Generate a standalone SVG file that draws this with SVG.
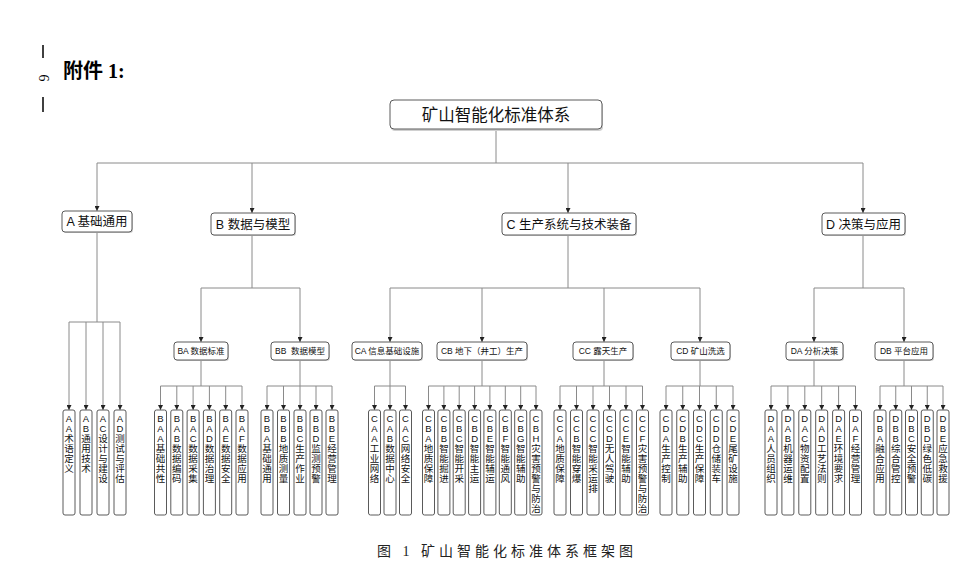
<svg xmlns="http://www.w3.org/2000/svg" width="968" height="575" viewBox="0 0 968 575">
<defs>
<marker id="arr" markerWidth="5" markerHeight="5" refX="5" refY="2.5" orient="auto" markerUnits="userSpaceOnUse">
<path d="M0,0 L5,2.5 L0,5 z" fill="#222"/>
</marker>
<style>
.box{fill:#fff;stroke:#5a5a5a;stroke-width:1}
.sh{fill:#d0d0d0}
.ln{fill:none;stroke:#8a8a8a;stroke-width:1}
.ar{fill:none;stroke:#8a8a8a;stroke-width:1;marker-end:url(#arr)}
.t{font-family:"Liberation Sans","Noto Sans CJK SC",sans-serif;fill:#111;text-anchor:middle}
.root{font-size:16.5px}
.l1{font-size:12.5px}
.l2{font-size:8.5px}
.lf{font-size:9.5px}
</style>
</defs>
<rect width="968" height="575" fill="#fff"/>

<g id="header">
<line x1="43" y1="45" x2="43" y2="58" stroke="#000" stroke-width="1.5"/>
<line x1="43" y1="97" x2="43" y2="112" stroke="#000" stroke-width="1.5"/>
<text x="43" y="78" transform="rotate(90 43 78)" font-family="Liberation Serif,serif" font-size="14" text-anchor="middle" dominant-baseline="central">6</text>
<text x="63" y="78" font-family="'Liberation Serif','Noto Sans CJK SC',serif" font-size="20" font-weight="bold">附件 1:</text>
</g>

<g id="connectors">
<path class="ln" d="M496,130 V163 M97,163 H863"/>
<path class="ar" d="M97,163 V211"/><path class="ar" d="M252,163 V213"/><path class="ar" d="M568,163 V213"/><path class="ar" d="M863,163 V213"/>
<path class="ln" d="M97,232 V322 M69,322 H120"/>
<path class="ar" d="M69,322 V410"/><path class="ar" d="M86,322 V410"/><path class="ar" d="M103,322 V410"/><path class="ar" d="M120,322 V410"/>
<path class="ln" d="M252,235 V288 M201,288 H300"/>
<path class="ar" d="M201,288 V342"/><path class="ar" d="M300,288 V342"/>
<path class="ln" d="M568,236 V288 M390,288 H700"/>
<path class="ar" d="M390,288 V342"/><path class="ar" d="M482,288 V342"/><path class="ar" d="M604,288 V342"/><path class="ar" d="M700,288 V342"/>
<path class="ln" d="M863,235 V288 M814,288 H904"/>
<path class="ar" d="M814,288 V342"/><path class="ar" d="M904,288 V342"/>
<path class="ln" d="M201,360 V386 M160.5,386 H242"/>
<path class="ar" d="M160.5,386 V410"/><path class="ar" d="M176.8,386 V410"/><path class="ar" d="M193.1,386 V410"/><path class="ar" d="M209.4,386 V410"/><path class="ar" d="M225.7,386 V410"/><path class="ar" d="M242,386 V410"/>
<path class="ln" d="M300,360 V386 M267,386 H332"/>
<path class="ar" d="M267,386 V410"/><path class="ar" d="M283.5,386 V410"/><path class="ar" d="M300,386 V410"/><path class="ar" d="M316,386 V410"/><path class="ar" d="M332,386 V410"/>
<path class="ln" d="M390,360 V386 M374.5,386 H405.5"/>
<path class="ar" d="M374.5,386 V410"/><path class="ar" d="M390,386 V410"/><path class="ar" d="M405.5,386 V410"/>
<path class="ln" d="M482,360 V386 M428.5,386 H536"/>
<path class="ar" d="M428.5,386 V410"/><path class="ar" d="M443.9,386 V410"/><path class="ar" d="M459.2,386 V410"/><path class="ar" d="M474.6,386 V410"/><path class="ar" d="M489.9,386 V410"/><path class="ar" d="M505.3,386 V410"/><path class="ar" d="M520.7,386 V410"/><path class="ar" d="M536,386 V410"/>
<path class="ln" d="M604,360 V386 M560,386 H642.5"/>
<path class="ar" d="M560,386 V410"/><path class="ar" d="M576.5,386 V410"/><path class="ar" d="M593,386 V410"/><path class="ar" d="M609.5,386 V410"/><path class="ar" d="M626,386 V410"/><path class="ar" d="M642.5,386 V410"/>
<path class="ln" d="M700,360 V386 M666,386 H733"/>
<path class="ar" d="M666,386 V410"/><path class="ar" d="M682.75,386 V410"/><path class="ar" d="M699.5,386 V410"/><path class="ar" d="M716.25,386 V410"/><path class="ar" d="M733,386 V410"/>
<path class="ln" d="M814,360 V386 M771,386 H855.5"/>
<path class="ar" d="M771,386 V410"/><path class="ar" d="M787.9,386 V410"/><path class="ar" d="M804.8,386 V410"/><path class="ar" d="M821.7,386 V410"/><path class="ar" d="M838.6,386 V410"/><path class="ar" d="M855.5,386 V410"/>
<path class="ln" d="M904,360 V386 M880,386 H943"/>
<path class="ar" d="M880,386 V410"/><path class="ar" d="M895.75,386 V410"/><path class="ar" d="M911.5,386 V410"/><path class="ar" d="M927.25,386 V410"/><path class="ar" d="M943,386 V410"/>
</g>

<g id="root"><rect class="sh" x="391" y="102" width="212" height="29" rx="4"/><rect class="box" x="390" y="100" width="212" height="29" rx="4"/><text class="t root" x="496" y="121">矿山智能化标准体系</text></g>

<g id="A"><rect class="sh" x="63" y="212" width="70" height="21" rx="3"/><rect class="box" x="62" y="211" width="70" height="21" rx="3"/><text class="t l1" x="97" y="226">A 基础通用</text></g>
<g id="B"><rect class="sh" x="212" y="214" width="84" height="22" rx="3"/><rect class="box" x="211" y="213" width="84" height="22" rx="3"/><text class="t l1" x="253" y="228.5">B 数据与模型</text></g>
<g id="C"><rect class="sh" x="503" y="214" width="134" height="22" rx="3"/><rect class="box" x="502" y="213" width="134" height="22" rx="3"/><text class="t l1" x="569" y="228.5">C 生产系统与技术装备</text></g>
<g id="D"><rect class="sh" x="823" y="214" width="83" height="22" rx="3"/><rect class="box" x="822" y="213" width="83" height="22" rx="3"/><text class="t l1" x="863.5" y="228.5">D 决策与应用</text></g>

<g id="BA"><rect class="sh" x="175" y="343" width="54" height="18" rx="3"/><rect class="box" x="174" y="342" width="54" height="18" rx="3"/><text class="t l2" x="201" y="354">BA 数据标准</text></g>
<g id="BB"><rect class="sh" x="272" y="343" width="58" height="18" rx="3"/><rect class="box" x="271" y="342" width="58" height="18" rx="3"/><text class="t l2" x="300" y="354" xml:space="preserve">BB  数据模型</text></g>
<g id="CA"><rect class="sh" x="353" y="343" width="70" height="18" rx="3"/><rect class="box" x="352" y="342" width="70" height="18" rx="3"/><text class="t l2" x="387" y="354">CA 信息基础设施</text></g>
<g id="CB"><rect class="sh" x="438" y="343" width="90" height="18" rx="3"/><rect class="box" x="437" y="342" width="90" height="18" rx="3"/><text class="t l2" x="482" y="354">CB 地下（井工）生产</text></g>
<g id="CC"><rect class="sh" x="574" y="343" width="60" height="18" rx="3"/><rect class="box" x="573" y="342" width="60" height="18" rx="3"/><text class="t l2" x="603" y="354">CC 露天生产</text></g>
<g id="CD"><rect class="sh" x="672" y="343" width="59" height="18" rx="3"/><rect class="box" x="671" y="342" width="59" height="18" rx="3"/><text class="t l2" x="700.5" y="354">CD 矿山洗选</text></g>
<g id="DA"><rect class="sh" x="787" y="343" width="57" height="18" rx="3"/><rect class="box" x="786" y="342" width="57" height="18" rx="3"/><text class="t l2" x="814.5" y="354">DA 分析决策</text></g>
<g id="DB"><rect class="sh" x="876" y="343" width="58" height="18" rx="3"/><rect class="box" x="875" y="342" width="58" height="18" rx="3"/><text class="t l2" x="904" y="354">DB 平台应用</text></g>

<g id="AA"><rect class="box" x="63" y="410" width="12" height="105" rx="2"/><text class="t lf" y="422"><tspan x="69">A</tspan><tspan x="69" dy="10">A</tspan><tspan x="69" dy="10">术</tspan><tspan x="69" dy="10">语</tspan><tspan x="69" dy="10">定</tspan><tspan x="69" dy="10">义</tspan></text></g>
<g id="AB"><rect class="box" x="80" y="410" width="12" height="105" rx="2"/><text class="t lf" y="422"><tspan x="86">A</tspan><tspan x="86" dy="10">B</tspan><tspan x="86" dy="10">通</tspan><tspan x="86" dy="10">用</tspan><tspan x="86" dy="10">技</tspan><tspan x="86" dy="10">术</tspan></text></g>
<g id="AC"><rect class="box" x="97" y="410" width="12" height="105" rx="2"/><text class="t lf" y="422"><tspan x="103">A</tspan><tspan x="103" dy="10">C</tspan><tspan x="103" dy="10">设</tspan><tspan x="103" dy="10">计</tspan><tspan x="103" dy="10">与</tspan><tspan x="103" dy="10">建</tspan><tspan x="103" dy="10">设</tspan></text></g>
<g id="AD"><rect class="box" x="114" y="410" width="12" height="105" rx="2"/><text class="t lf" y="422"><tspan x="120">A</tspan><tspan x="120" dy="10">D</tspan><tspan x="120" dy="10">测</tspan><tspan x="120" dy="10">试</tspan><tspan x="120" dy="10">与</tspan><tspan x="120" dy="10">评</tspan><tspan x="120" dy="10">估</tspan></text></g>

<g id="BAA"><rect class="box" x="154.5" y="410" width="12" height="105" rx="2"/><text class="t lf" y="422"><tspan x="160.5">B</tspan><tspan x="160.5" dy="10">A</tspan><tspan x="160.5" dy="10">A</tspan><tspan x="160.5" dy="10">基</tspan><tspan x="160.5" dy="10">础</tspan><tspan x="160.5" dy="10">共</tspan><tspan x="160.5" dy="10">性</tspan></text></g>
<g id="BAB"><rect class="box" x="170.8" y="410" width="12" height="105" rx="2"/><text class="t lf" y="422"><tspan x="176.8">B</tspan><tspan x="176.8" dy="10">A</tspan><tspan x="176.8" dy="10">B</tspan><tspan x="176.8" dy="10">数</tspan><tspan x="176.8" dy="10">据</tspan><tspan x="176.8" dy="10">编</tspan><tspan x="176.8" dy="10">码</tspan></text></g>
<g id="BAC"><rect class="box" x="187.1" y="410" width="12" height="105" rx="2"/><text class="t lf" y="422"><tspan x="193.1">B</tspan><tspan x="193.1" dy="10">A</tspan><tspan x="193.1" dy="10">C</tspan><tspan x="193.1" dy="10">数</tspan><tspan x="193.1" dy="10">据</tspan><tspan x="193.1" dy="10">采</tspan><tspan x="193.1" dy="10">集</tspan></text></g>
<g id="BAD"><rect class="box" x="203.4" y="410" width="12" height="105" rx="2"/><text class="t lf" y="422"><tspan x="209.4">B</tspan><tspan x="209.4" dy="10">A</tspan><tspan x="209.4" dy="10">D</tspan><tspan x="209.4" dy="10">数</tspan><tspan x="209.4" dy="10">据</tspan><tspan x="209.4" dy="10">治</tspan><tspan x="209.4" dy="10">理</tspan></text></g>
<g id="BAE"><rect class="box" x="219.7" y="410" width="12" height="105" rx="2"/><text class="t lf" y="422"><tspan x="225.7">B</tspan><tspan x="225.7" dy="10">A</tspan><tspan x="225.7" dy="10">E</tspan><tspan x="225.7" dy="10">数</tspan><tspan x="225.7" dy="10">据</tspan><tspan x="225.7" dy="10">安</tspan><tspan x="225.7" dy="10">全</tspan></text></g>
<g id="BAF"><rect class="box" x="236" y="410" width="12" height="105" rx="2"/><text class="t lf" y="422"><tspan x="242">B</tspan><tspan x="242" dy="10">A</tspan><tspan x="242" dy="10">F</tspan><tspan x="242" dy="10">数</tspan><tspan x="242" dy="10">据</tspan><tspan x="242" dy="10">应</tspan><tspan x="242" dy="10">用</tspan></text></g>

<g id="BBA"><rect class="box" x="261" y="410" width="12" height="105" rx="2"/><text class="t lf" y="422"><tspan x="267">B</tspan><tspan x="267" dy="10">B</tspan><tspan x="267" dy="10">A</tspan><tspan x="267" dy="10">基</tspan><tspan x="267" dy="10">础</tspan><tspan x="267" dy="10">通</tspan><tspan x="267" dy="10">用</tspan></text></g>
<g id="BBB"><rect class="box" x="277.5" y="410" width="12" height="105" rx="2"/><text class="t lf" y="422"><tspan x="283.5">B</tspan><tspan x="283.5" dy="10">B</tspan><tspan x="283.5" dy="10">B</tspan><tspan x="283.5" dy="10">地</tspan><tspan x="283.5" dy="10">质</tspan><tspan x="283.5" dy="10">测</tspan><tspan x="283.5" dy="10">量</tspan></text></g>
<g id="BBC"><rect class="box" x="294" y="410" width="12" height="105" rx="2"/><text class="t lf" y="422"><tspan x="300">B</tspan><tspan x="300" dy="10">B</tspan><tspan x="300" dy="10">C</tspan><tspan x="300" dy="10">生</tspan><tspan x="300" dy="10">产</tspan><tspan x="300" dy="10">作</tspan><tspan x="300" dy="10">业</tspan></text></g>
<g id="BBD"><rect class="box" x="310" y="410" width="12" height="105" rx="2"/><text class="t lf" y="422"><tspan x="316">B</tspan><tspan x="316" dy="10">B</tspan><tspan x="316" dy="10">D</tspan><tspan x="316" dy="10">监</tspan><tspan x="316" dy="10">测</tspan><tspan x="316" dy="10">预</tspan><tspan x="316" dy="10">警</tspan></text></g>
<g id="BBE"><rect class="box" x="326" y="410" width="12" height="105" rx="2"/><text class="t lf" y="422"><tspan x="332">B</tspan><tspan x="332" dy="10">B</tspan><tspan x="332" dy="10">E</tspan><tspan x="332" dy="10">经</tspan><tspan x="332" dy="10">营</tspan><tspan x="332" dy="10">管</tspan><tspan x="332" dy="10">理</tspan></text></g>

<g id="CAA"><rect class="box" x="368.5" y="410" width="12" height="105" rx="2"/><text class="t lf" y="422"><tspan x="374.5">C</tspan><tspan x="374.5" dy="10">A</tspan><tspan x="374.5" dy="10">A</tspan><tspan x="374.5" dy="10">工</tspan><tspan x="374.5" dy="10">业</tspan><tspan x="374.5" dy="10">网</tspan><tspan x="374.5" dy="10">络</tspan></text></g>
<g id="CAB"><rect class="box" x="384" y="410" width="12" height="105" rx="2"/><text class="t lf" y="422"><tspan x="390">C</tspan><tspan x="390" dy="10">A</tspan><tspan x="390" dy="10">B</tspan><tspan x="390" dy="10">数</tspan><tspan x="390" dy="10">据</tspan><tspan x="390" dy="10">中</tspan><tspan x="390" dy="10">心</tspan></text></g>
<g id="CAC"><rect class="box" x="399.5" y="410" width="12" height="105" rx="2"/><text class="t lf" y="422"><tspan x="405.5">C</tspan><tspan x="405.5" dy="10">A</tspan><tspan x="405.5" dy="10">C</tspan><tspan x="405.5" dy="10">网</tspan><tspan x="405.5" dy="10">络</tspan><tspan x="405.5" dy="10">安</tspan><tspan x="405.5" dy="10">全</tspan></text></g>

<g id="CBA"><rect class="box" x="422.5" y="410" width="12" height="105" rx="2"/><text class="t lf" y="422"><tspan x="428.5">C</tspan><tspan x="428.5" dy="10">B</tspan><tspan x="428.5" dy="10">A</tspan><tspan x="428.5" dy="10">地</tspan><tspan x="428.5" dy="10">质</tspan><tspan x="428.5" dy="10">保</tspan><tspan x="428.5" dy="10">障</tspan></text></g>
<g id="CBB"><rect class="box" x="437.9" y="410" width="12" height="105" rx="2"/><text class="t lf" y="422"><tspan x="443.9">C</tspan><tspan x="443.9" dy="10">B</tspan><tspan x="443.9" dy="10">B</tspan><tspan x="443.9" dy="10">智</tspan><tspan x="443.9" dy="10">能</tspan><tspan x="443.9" dy="10">掘</tspan><tspan x="443.9" dy="10">进</tspan></text></g>
<g id="CBC"><rect class="box" x="453.2" y="410" width="12" height="105" rx="2"/><text class="t lf" y="422"><tspan x="459.2">C</tspan><tspan x="459.2" dy="10">B</tspan><tspan x="459.2" dy="10">C</tspan><tspan x="459.2" dy="10">智</tspan><tspan x="459.2" dy="10">能</tspan><tspan x="459.2" dy="10">开</tspan><tspan x="459.2" dy="10">采</tspan></text></g>
<g id="CBD"><rect class="box" x="468.6" y="410" width="12" height="105" rx="2"/><text class="t lf" y="422"><tspan x="474.6">C</tspan><tspan x="474.6" dy="10">B</tspan><tspan x="474.6" dy="10">D</tspan><tspan x="474.6" dy="10">智</tspan><tspan x="474.6" dy="10">能</tspan><tspan x="474.6" dy="10">主</tspan><tspan x="474.6" dy="10">运</tspan></text></g>
<g id="CBE"><rect class="box" x="483.9" y="410" width="12" height="105" rx="2"/><text class="t lf" y="422"><tspan x="489.9">C</tspan><tspan x="489.9" dy="10">B</tspan><tspan x="489.9" dy="10">E</tspan><tspan x="489.9" dy="10">智</tspan><tspan x="489.9" dy="10">能</tspan><tspan x="489.9" dy="10">辅</tspan><tspan x="489.9" dy="10">运</tspan></text></g>
<g id="CBF"><rect class="box" x="499.3" y="410" width="12" height="105" rx="2"/><text class="t lf" y="422"><tspan x="505.3">C</tspan><tspan x="505.3" dy="10">B</tspan><tspan x="505.3" dy="10">F</tspan><tspan x="505.3" dy="10">智</tspan><tspan x="505.3" dy="10">能</tspan><tspan x="505.3" dy="10">通</tspan><tspan x="505.3" dy="10">风</tspan></text></g>
<g id="CBG"><rect class="box" x="514.7" y="410" width="12" height="105" rx="2"/><text class="t lf" y="422"><tspan x="520.7">C</tspan><tspan x="520.7" dy="10">B</tspan><tspan x="520.7" dy="10">G</tspan><tspan x="520.7" dy="10">智</tspan><tspan x="520.7" dy="10">能</tspan><tspan x="520.7" dy="10">辅</tspan><tspan x="520.7" dy="10">助</tspan></text></g>
<g id="CBH"><rect class="box" x="530" y="410" width="12" height="105" rx="2"/><text class="t lf" y="422"><tspan x="536">C</tspan><tspan x="536" dy="10">B</tspan><tspan x="536" dy="10">H</tspan><tspan x="536" dy="10">灾</tspan><tspan x="536" dy="10">害</tspan><tspan x="536" dy="10">预</tspan><tspan x="536" dy="10">警</tspan><tspan x="536" dy="10">与</tspan><tspan x="536" dy="10">防</tspan><tspan x="536" dy="10">治</tspan></text></g>

<g id="CCA"><rect class="box" x="554" y="410" width="12" height="105" rx="2"/><text class="t lf" y="422"><tspan x="560">C</tspan><tspan x="560" dy="10">C</tspan><tspan x="560" dy="10">A</tspan><tspan x="560" dy="10">地</tspan><tspan x="560" dy="10">质</tspan><tspan x="560" dy="10">保</tspan><tspan x="560" dy="10">障</tspan></text></g>
<g id="CCB"><rect class="box" x="570.5" y="410" width="12" height="105" rx="2"/><text class="t lf" y="422"><tspan x="576.5">C</tspan><tspan x="576.5" dy="10">C</tspan><tspan x="576.5" dy="10">B</tspan><tspan x="576.5" dy="10">智</tspan><tspan x="576.5" dy="10">能</tspan><tspan x="576.5" dy="10">穿</tspan><tspan x="576.5" dy="10">爆</tspan></text></g>
<g id="CCC"><rect class="box" x="587" y="410" width="12" height="105" rx="2"/><text class="t lf" y="422"><tspan x="593">C</tspan><tspan x="593" dy="10">C</tspan><tspan x="593" dy="10">C</tspan><tspan x="593" dy="10">智</tspan><tspan x="593" dy="10">能</tspan><tspan x="593" dy="10">采</tspan><tspan x="593" dy="10">运</tspan><tspan x="593" dy="10">排</tspan></text></g>
<g id="CCD"><rect class="box" x="603.5" y="410" width="12" height="105" rx="2"/><text class="t lf" y="422"><tspan x="609.5">C</tspan><tspan x="609.5" dy="10">C</tspan><tspan x="609.5" dy="10">D</tspan><tspan x="609.5" dy="10">无</tspan><tspan x="609.5" dy="10">人</tspan><tspan x="609.5" dy="10">驾</tspan><tspan x="609.5" dy="10">驶</tspan></text></g>
<g id="CCE"><rect class="box" x="620" y="410" width="12" height="105" rx="2"/><text class="t lf" y="422"><tspan x="626">C</tspan><tspan x="626" dy="10">C</tspan><tspan x="626" dy="10">E</tspan><tspan x="626" dy="10">智</tspan><tspan x="626" dy="10">能</tspan><tspan x="626" dy="10">辅</tspan><tspan x="626" dy="10">助</tspan></text></g>
<g id="CCF"><rect class="box" x="636.5" y="410" width="12" height="105" rx="2"/><text class="t lf" y="422"><tspan x="642.5">C</tspan><tspan x="642.5" dy="10">C</tspan><tspan x="642.5" dy="10">F</tspan><tspan x="642.5" dy="10">灾</tspan><tspan x="642.5" dy="10">害</tspan><tspan x="642.5" dy="10">预</tspan><tspan x="642.5" dy="10">警</tspan><tspan x="642.5" dy="10">与</tspan><tspan x="642.5" dy="10">防</tspan><tspan x="642.5" dy="10">治</tspan></text></g>

<g id="CDA"><rect class="box" x="660" y="410" width="12" height="105" rx="2"/><text class="t lf" y="422"><tspan x="666">C</tspan><tspan x="666" dy="10">D</tspan><tspan x="666" dy="10">A</tspan><tspan x="666" dy="10">生</tspan><tspan x="666" dy="10">产</tspan><tspan x="666" dy="10">控</tspan><tspan x="666" dy="10">制</tspan></text></g>
<g id="CDB"><rect class="box" x="676.75" y="410" width="12" height="105" rx="2"/><text class="t lf" y="422"><tspan x="682.75">C</tspan><tspan x="682.75" dy="10">D</tspan><tspan x="682.75" dy="10">B</tspan><tspan x="682.75" dy="10">生</tspan><tspan x="682.75" dy="10">产</tspan><tspan x="682.75" dy="10">辅</tspan><tspan x="682.75" dy="10">助</tspan></text></g>
<g id="CDC"><rect class="box" x="693.5" y="410" width="12" height="105" rx="2"/><text class="t lf" y="422"><tspan x="699.5">C</tspan><tspan x="699.5" dy="10">D</tspan><tspan x="699.5" dy="10">C</tspan><tspan x="699.5" dy="10">生</tspan><tspan x="699.5" dy="10">产</tspan><tspan x="699.5" dy="10">保</tspan><tspan x="699.5" dy="10">障</tspan></text></g>
<g id="CDD"><rect class="box" x="710.25" y="410" width="12" height="105" rx="2"/><text class="t lf" y="422"><tspan x="716.25">C</tspan><tspan x="716.25" dy="10">D</tspan><tspan x="716.25" dy="10">D</tspan><tspan x="716.25" dy="10">仓</tspan><tspan x="716.25" dy="10">储</tspan><tspan x="716.25" dy="10">装</tspan><tspan x="716.25" dy="10">车</tspan></text></g>
<g id="CDE"><rect class="box" x="727" y="410" width="12" height="105" rx="2"/><text class="t lf" y="422"><tspan x="733">C</tspan><tspan x="733" dy="10">D</tspan><tspan x="733" dy="10">E</tspan><tspan x="733" dy="10">尾</tspan><tspan x="733" dy="10">矿</tspan><tspan x="733" dy="10">设</tspan><tspan x="733" dy="10">施</tspan></text></g>

<g id="DAA"><rect class="box" x="765" y="410" width="12" height="105" rx="2"/><text class="t lf" y="422"><tspan x="771">D</tspan><tspan x="771" dy="10">A</tspan><tspan x="771" dy="10">A</tspan><tspan x="771" dy="10">人</tspan><tspan x="771" dy="10">员</tspan><tspan x="771" dy="10">组</tspan><tspan x="771" dy="10">织</tspan></text></g>
<g id="DAB"><rect class="box" x="781.9" y="410" width="12" height="105" rx="2"/><text class="t lf" y="422"><tspan x="787.9">D</tspan><tspan x="787.9" dy="10">A</tspan><tspan x="787.9" dy="10">B</tspan><tspan x="787.9" dy="10">机</tspan><tspan x="787.9" dy="10">器</tspan><tspan x="787.9" dy="10">运</tspan><tspan x="787.9" dy="10">维</tspan></text></g>
<g id="DAC"><rect class="box" x="798.8" y="410" width="12" height="105" rx="2"/><text class="t lf" y="422"><tspan x="804.8">D</tspan><tspan x="804.8" dy="10">A</tspan><tspan x="804.8" dy="10">C</tspan><tspan x="804.8" dy="10">物</tspan><tspan x="804.8" dy="10">资</tspan><tspan x="804.8" dy="10">配</tspan><tspan x="804.8" dy="10">置</tspan></text></g>
<g id="DAD"><rect class="box" x="815.7" y="410" width="12" height="105" rx="2"/><text class="t lf" y="422"><tspan x="821.7">D</tspan><tspan x="821.7" dy="10">A</tspan><tspan x="821.7" dy="10">D</tspan><tspan x="821.7" dy="10">工</tspan><tspan x="821.7" dy="10">艺</tspan><tspan x="821.7" dy="10">法</tspan><tspan x="821.7" dy="10">则</tspan></text></g>
<g id="DAE"><rect class="box" x="832.6" y="410" width="12" height="105" rx="2"/><text class="t lf" y="422"><tspan x="838.6">D</tspan><tspan x="838.6" dy="10">A</tspan><tspan x="838.6" dy="10">E</tspan><tspan x="838.6" dy="10">环</tspan><tspan x="838.6" dy="10">境</tspan><tspan x="838.6" dy="10">要</tspan><tspan x="838.6" dy="10">求</tspan></text></g>
<g id="DAF"><rect class="box" x="849.5" y="410" width="12" height="105" rx="2"/><text class="t lf" y="422"><tspan x="855.5">D</tspan><tspan x="855.5" dy="10">A</tspan><tspan x="855.5" dy="10">F</tspan><tspan x="855.5" dy="10">经</tspan><tspan x="855.5" dy="10">营</tspan><tspan x="855.5" dy="10">管</tspan><tspan x="855.5" dy="10">理</tspan></text></g>

<g id="DBA"><rect class="box" x="874" y="410" width="12" height="105" rx="2"/><text class="t lf" y="422"><tspan x="880">D</tspan><tspan x="880" dy="10">B</tspan><tspan x="880" dy="10">A</tspan><tspan x="880" dy="10">融</tspan><tspan x="880" dy="10">合</tspan><tspan x="880" dy="10">应</tspan><tspan x="880" dy="10">用</tspan></text></g>
<g id="DBB"><rect class="box" x="889.75" y="410" width="12" height="105" rx="2"/><text class="t lf" y="422"><tspan x="895.75">D</tspan><tspan x="895.75" dy="10">B</tspan><tspan x="895.75" dy="10">B</tspan><tspan x="895.75" dy="10">综</tspan><tspan x="895.75" dy="10">合</tspan><tspan x="895.75" dy="10">管</tspan><tspan x="895.75" dy="10">控</tspan></text></g>
<g id="DBC"><rect class="box" x="905.5" y="410" width="12" height="105" rx="2"/><text class="t lf" y="422"><tspan x="911.5">D</tspan><tspan x="911.5" dy="10">B</tspan><tspan x="911.5" dy="10">C</tspan><tspan x="911.5" dy="10">安</tspan><tspan x="911.5" dy="10">全</tspan><tspan x="911.5" dy="10">预</tspan><tspan x="911.5" dy="10">警</tspan></text></g>
<g id="DBD"><rect class="box" x="921.25" y="410" width="12" height="105" rx="2"/><text class="t lf" y="422"><tspan x="927.25">D</tspan><tspan x="927.25" dy="10">B</tspan><tspan x="927.25" dy="10">D</tspan><tspan x="927.25" dy="10">绿</tspan><tspan x="927.25" dy="10">色</tspan><tspan x="927.25" dy="10">低</tspan><tspan x="927.25" dy="10">碳</tspan></text></g>
<g id="DBE"><rect class="box" x="937" y="410" width="12" height="105" rx="2"/><text class="t lf" y="422"><tspan x="943">D</tspan><tspan x="943" dy="10">B</tspan><tspan x="943" dy="10">E</tspan><tspan x="943" dy="10">应</tspan><tspan x="943" dy="10">急</tspan><tspan x="943" dy="10">救</tspan><tspan x="943" dy="10">援</tspan></text></g>

<g id="caption"><text x="377" y="556" font-family="'Liberation Serif','Noto Sans CJK SC',serif" font-size="14" letter-spacing="4" fill="#222">图 1 矿山智能化标准体系框架图</text></g>
</svg>
